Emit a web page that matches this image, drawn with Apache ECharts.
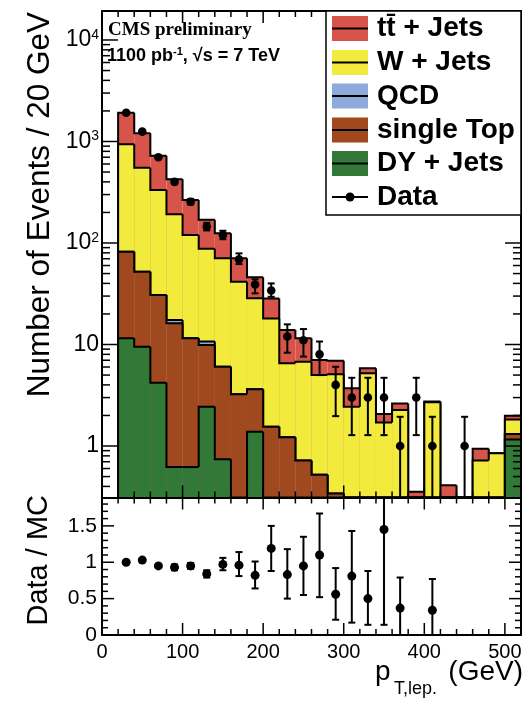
<!DOCTYPE html>
<html><head><meta charset="utf-8">
<script src="https://cdn.jsdelivr.net/npm/echarts@6/dist/echarts.min.js"></script>
<style>html,body{margin:0;padding:0;background:#fff}#c{width:527px;height:701px}</style>
</head><body><div id="c"></div>
<script>
// ---------------- data ----------------
const BIN_W = 20;
const binLow = [20,40,60,80,100,120,140,160,180,200,220,240,260,280,300,320,340,360,380,400,420,440,460,480,500];
const dyJets    = [11.5,9.5,4.2,0.62,0.62,2.44,0.74,0,1.38,0,0,0,0,0,0,0,0,0,0,0,0,0,0,0,1.16];
const singleTop = [70.5,42.5,26.5,15.6,10.9,7.46,5.30,3.23,2.24,1.55,1.22,0.72,0.52,0.34,0,0,0,0,0,0,0,0,0,0,0.15];
const qcd       = [0,0,0,1.2,0,0.8,0,0,0,0,0,0,0,0,0,0,0,0,0,0,0,0,0,0,0];
const wJets     = [856,500,302,175,108.5,77.3,64.6,38.4,24.9,16.5,5.31,6.05,4.48,4.76,2.44,5.2,1.70,2.26,0,2.70,0,0,0.72,0.85,0.51];
const ttJets    = [985,653,391,232,145,81,54,29,17.4,10.4,7.37,4.73,2.03,1.83,1.26,0.63,0.37,0.37,0.355,0.05,0.41,0,0.22,0,0.17];
const dataCounts  = [1920,1250,700,400,255,145,120,69,39,34,12,11,8,4,3,3,3,1,3,1,null,1,null,null,null];
const dataErrLow  = [1876,1215,674,380,239,133,109,62,31.9,29.5,8.3,7.6,5.0,1.97,1.28,1.28,1.28,0,1.28,0,null,0,null,null,null];
const dataErrHigh = [1964,1286,727,420,272,158,132,79,43.9,40.0,15.8,14.2,10.7,6.04,4.7,4.7,4.7,1.94,4.7,1.94,null,1.94,null,null,null];
const ratioX    = [30,50,70,90,110,130,150,170,190,210,230,250,270,290,310,330,350,370,410];
const ratioVal  = [1.00,1.03,0.95,0.93,0.95,0.84,0.97,0.96,0.82,1.19,0.83,0.95,1.10,0.56,0.81,0.50,1.45,0.37,0.34];
const ratioLow  = [0.98,1.01,0.93,0.89,0.91,0.79,0.89,0.81,0.64,0.88,0.50,0.55,0.52,0.21,0.17,0.14,0.14,0,0];
const ratioHigh = [1.02,1.05,0.97,0.97,0.99,0.89,1.06,1.14,1.01,1.50,1.18,1.35,1.67,0.92,1.43,0.88,2.50,0.79,0.77];
const xTickLabels = [0,100,200,300,400,500];
const logTickLabels = [1,10,100,1000,10000];
const ratioTickLabels = [0,0.5,1,1.5];
const legendNames = ['tt\u0304 + Jets','W + Jets','QCD','single Top','DY + Jets','Data'];

// ---------------- style constants ----------------
const X_MIN = 0, X_MAX = 520, Y_MIN = 0.311, Y_MAX = 19300, R_MIN = 0, R_MAX = 1.89;
const COL = {tt:'#d6544a', w:'#f2ea3c', qcd:'#8caadc', st:'#a0481e', dy:'#327837'};
const FONT = '"Liberation Sans", Arial, Helvetica, sans-serif';

// cumulative stack levels
const cumG = dyJets.slice();
const cumB = cumG.map((v,i)=>v+singleTop[i]);
const cumQ = cumB.map((v,i)=>v+qcd[i]);
const cumY = cumQ.map((v,i)=>v+wJets[i]);
const cumR = cumY.map((v,i)=>v+ttJets[i]);

function histSeries(name, cum, color) {
  return {
    type:'custom', name, xAxisIndex:0, yAxisIndex:0, z:2, silent:true,
    data: binLow.map((x,i)=>[x, x+BIN_W, cum[i]]),
    encode:{x:[0,1], y:2},
    renderItem(params, api) {
      const i = params.dataIndex;
      const x0 = api.value(0), x1 = api.value(1);
      const top = Math.max(cum[i], Y_MIN);
      const prev = i === 0 ? Y_MIN : Math.max(cum[i-1], Y_MIN);
      const pTL = api.coord([x0, top]);
      const pBR = api.coord([x1, Y_MIN]);
      const pTR = api.coord([x1, top]);
      const pPrev = api.coord([x0, prev]);
      const ch = [];
      if (top > Y_MIN) ch.push({type:'rect', shape:{x:pTL[0], y:pTL[1], width:pBR[0]-pTL[0], height:pBR[1]-pTL[1]}, style:{fill:color}});
      const pts = [pPrev, pTL, pTR];
      if (i === cum.length-1) pts.push(pBR);
      ch.push({type:'polyline', shape:{points:pts}, style:{stroke:'#000', lineWidth:2, fill:null}});
      return {type:'group', children:ch};
    }
  };
}

function errSeries(name, xi, yi, items, lo, hi, r) {
  return {
    type:'custom', name, xAxisIndex:xi, yAxisIndex:yi, z:6, silent:true,
    data: items, encode:{x:0, y:1},
    renderItem(params, api) {
      const x = api.value(0), y = api.value(1);
      const l = Math.max(api.value(2), lo), h = Math.min(api.value(3), hi);
      const p = api.coord([x,y]), pl = api.coord([x,l]), ph = api.coord([x,h]);
      const ch = [{type:'line', shape:{x1:pl[0], y1:pl[1], x2:ph[0], y2:ph[1]}, style:{stroke:'#000', lineWidth:2}}];
      if (api.value(2) > lo) ch.push({type:'line', shape:{x1:pl[0]-3.5, y1:pl[1], x2:pl[0]+3.5, y2:pl[1]}, style:{stroke:'#000', lineWidth:2}});
      if (api.value(3) < hi) ch.push({type:'line', shape:{x1:ph[0]-3.5, y1:ph[1], x2:ph[0]+3.5, y2:ph[1]}, style:{stroke:'#000', lineWidth:2}});
      ch.push({type:'circle', shape:{cx:p[0], cy:p[1], r:r}, style:{fill:'#000'}});
      return {type:'group', children:ch};
    }
  };
}

const dataItems = [];
binLow.forEach((x,i)=>{ if (dataCounts[i] != null) dataItems.push([x+BIN_W/2, dataCounts[i], dataErrLow[i], dataErrHigh[i]]); });
const ratioItems = ratioX.map((x,i)=>[x, ratioVal[i], ratioLow[i], ratioHigh[i]]);

// ---------------- tick marks (decoration, drawn through the axes' scales) ----------------
const xTicks = []; for (let v=20; v<520; v+=20) xTicks.push([v, v%100 ? 6 : 12]);
const rTicks = []; for (let k=1; k<=18; k++) rTicks.push([k/10, k%5 ? 6 : 12]);
const logTicks = [];
for (let d=-1; d<=4; d++) for (let m=1; m<=9; m++) { const v = m*Math.pow(10,d); if (v>=Y_MIN && v<=Y_MAX) logTicks.push([v, m===1?16:8]); }

function seg(x1,y1,x2,y2){ return {type:'line', shape:{x1,y1,x2,y2}, style:{stroke:'#000', lineWidth:1.5}}; }
function xTickSeries(xi, yi, yLo, yHi) {
  return {type:'custom', xAxisIndex:xi, yAxisIndex:yi, z:5, silent:true,
    data: xTicks.map(t=>[t[0], yLo, t[1]]), encode:{x:0, y:1},
    renderItem(params, api){
      const v = api.value(0), len = api.value(2);
      const pb = api.coord([v, yLo]), pt = api.coord([v, yHi]);
      return {type:'group', children:[seg(pb[0], pb[1], pb[0], pb[1]-len), seg(pt[0], pt[1], pt[0], pt[1]+len)]};
    }};
}
function yTickSeries(xi, yi, ticks) {
  return {type:'custom', xAxisIndex:xi, yAxisIndex:yi, z:5, silent:true,
    data: ticks.map(t=>[X_MIN, t[0], t[1]]), encode:{x:0, y:1},
    renderItem(params, api){
      const v = api.value(1), len = api.value(2);
      const pl = api.coord([X_MIN, v]), pr = api.coord([X_MAX, v]);
      return {type:'group', children:[seg(pl[0], pl[1], pl[0]+len, pl[1]), seg(pr[0], pr[1], pr[0]-len, pr[1])]};
    }};
}

const lineStyle = {color:'#000', width:2};
function xAx(grid, pos, labels) {
  return {type:'value', gridIndex:grid, position:pos, min:X_MIN, max:X_MAX, z:4,
    axisLine:{show:true, onZero:false, lineStyle}, splitLine:{show:false}, axisTick:{show:false},
    axisLabel: labels ? {show:true, customValues:xTickLabels, margin:7, fontSize:20, fontFamily:FONT, color:'#000'} : {show:false}};
}
function rAx(pos, labels) {
  return {type:'value', gridIndex:1, position:pos, min:R_MIN, max:R_MAX, z:4,
    axisLine:{show:true, onZero:false, lineStyle}, splitLine:{show:false}, axisTick:{show:false},
    axisLabel: labels ? {show:true, customValues:ratioTickLabels, margin:5, fontSize:21, fontFamily:FONT, color:'#000'} : {show:false}};
}

const option = {
  animation:false,
  backgroundColor:'#fff',
  grid:[
    {left:102, top:11, width:419, height:486.5, outerBoundsMode:'none'},
    {left:102, top:497.5, width:419, height:137.5, outerBoundsMode:'none'}
  ],
  xAxis:[ xAx(0,'bottom',false), xAx(0,'top',false), xAx(1,'bottom',true), xAx(1,'top',false) ],
  yAxis:[
    {type:'log', logBase:10, gridIndex:0, position:'left', min:Y_MIN, max:Y_MAX, z:4,
     axisLine:{show:true, onZero:false, lineStyle}, splitLine:{show:false}, axisTick:{show:false},
     axisLabel:{show:true, margin:3, color:'#000', fontFamily:FONT,
       formatter(v){ const e = Math.log10(v); const r = Math.round(e);
         if (Math.abs(e-r) > 1e-6 || r < 0 || logTickLabels.indexOf(Math.pow(10,r)) < 0) return '';
         if (r <= 1) return '{b|' + Math.pow(10,r) + '}';
         return '{b|10}{s|' + r + '}'; },
       rich:{ b:{fontSize:23, fontFamily:FONT, color:'#000', lineHeight:24}, s:{fontSize:14, fontFamily:FONT, color:'#000', lineHeight:14, verticalAlign:'top'} } }},
    {type:'log', logBase:10, gridIndex:0, position:'right', min:Y_MIN, max:Y_MAX, z:4,
     axisLine:{show:true, onZero:false, lineStyle}, splitLine:{show:false}, axisTick:{show:false}, axisLabel:{show:false}},
    rAx('left', true),
    rAx('right', false)
  ],
  series:[
    histSeries('tt + Jets', cumR, COL.tt),
    histSeries('W + Jets', cumY, COL.w),
    histSeries('QCD', cumQ, COL.qcd),
    histSeries('single Top', cumB, COL.st),
    histSeries('DY + Jets', cumG, COL.dy),
    yTickSeries(0, 0, logTicks),
    xTickSeries(0, 0, Y_MIN, Y_MAX),
    xTickSeries(2, 2, R_MIN, R_MAX),
    yTickSeries(2, 2, rTicks),
    errSeries('Data', 0, 0, dataItems, Y_MIN, Y_MAX, 4.3),
    errSeries('Data / MC', 2, 2, ratioItems, R_MIN, R_MAX, 4.5)
  ],
  graphic:[]
};

// texts, legend
const G = option.graphic;
G.push({type:'text', x:108, y:30.5, z:50, style:{text:'CMS preliminary', fontFamily:'"Liberation Serif", "Times New Roman", serif', fontWeight:'bold', fontSize:19, fill:'#000', align:'left', verticalAlign:'middle'}});
G.push({type:'text', x:107, y:56.5, z:50, style:{text:'{a|1100 pb}{s|-1}{a|, \u221As = 7 TeV}', align:'left', verticalAlign:'middle',
  rich:{a:{fontFamily:FONT, fontWeight:'bold', fontSize:18, fill:'#000', lineHeight:20}, s:{fontFamily:FONT, fontWeight:'bold', fontSize:11, fill:'#000', lineHeight:11, verticalAlign:'top'}}}});
G.push({type:'rect', z:40, shape:{x:326, y:11, width:195, height:204}, style:{fill:'#fff', stroke:'#000', lineWidth:1.5}});
const legCols = [COL.tt, COL.w, COL.qcd, COL.st, COL.dy, null];
const legY = [28.5, 62.5, 96, 130, 163.5, 197];
legendNames.forEach((n,i)=>{
  const cy = legY[i];
  if (legCols[i]) {
    G.push({type:'rect', z:41, shape:{x:332, y:cy-12.5, width:36, height:25}, style:{fill:legCols[i]}});
    G.push({type:'line', z:42, shape:{x1:332, y1:cy, x2:368, y2:cy}, style:{stroke:'#000', lineWidth:2}});
  } else {
    G.push({type:'line', z:42, shape:{x1:332, y1:cy, x2:368, y2:cy}, style:{stroke:'#000', lineWidth:2}});
    G.push({type:'circle', z:42, shape:{cx:350, cy:cy, r:4.5}, style:{fill:'#000'}});
  }
  G.push({type:'text', z:42, x:377, y:cy, style:{text:n, fontFamily:FONT, fontWeight:'bold', fontSize:28, fill:'#000', align:'left', verticalAlign:'middle'}});
});
G.push({type:'text', x:40, y:12, rotation:Math.PI/2, z:50, style:{text:'Number of Events / 20 GeV', fontFamily:FONT, fontSize:31.5, fill:'#000', align:'right', verticalAlign:'middle'}});
G.push({type:'text', x:39, y:495, rotation:Math.PI/2, z:50, style:{text:'Data / MC', fontFamily:FONT, fontSize:29, fill:'#000', align:'right', verticalAlign:'middle'}});
G.push({type:'text', x:375, y:672, z:50, style:{text:'p', fontFamily:FONT, fontSize:28, fill:'#000', align:'left', verticalAlign:'middle'}});
G.push({type:'text', x:394, y:689, z:50, style:{text:'T,lep.', fontFamily:FONT, fontSize:18, fill:'#000', align:'left', verticalAlign:'middle'}});
G.push({type:'text', x:523, y:672, z:50, style:{text:'(GeV)', fontFamily:FONT, fontSize:28, fill:'#000', align:'right', verticalAlign:'middle'}});

const chart = echarts.init(document.getElementById('c'), null, {renderer:'canvas', width:527, height:701});
chart.setOption(option);
</script></body></html>
